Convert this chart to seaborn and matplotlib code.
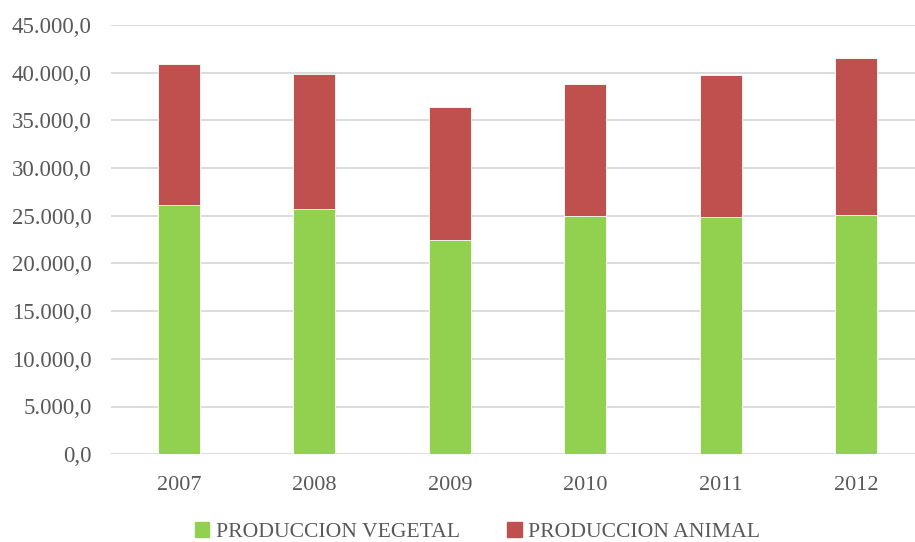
import pandas as pd
import matplotlib.pyplot as plt
import seaborn as sns
from matplotlib.ticker import FuncFormatter
from matplotlib.patches import Patch

years = ["2007", "2008", "2009", "2010", "2011", "2012"]
vegetal = [26130, 25700, 22500, 25000, 24870, 25120]
animal = [14770, 14200, 13900, 13800, 14890, 16380]

df = pd.DataFrame({"year": years, "vegetal": vegetal, "animal": animal})
df["total"] = df["vegetal"] + df["animal"]

sns.set_style("white")
plt.rcParams["font.family"] = ["Liberation Serif", "DejaVu Serif"]

green = "#92D050"
red = "#C0504D"
grey = "#595959"

fig = plt.figure(figsize=(9.15, 5.42), dpi=100)
ax = fig.add_axes([0.1216, 0.162, 0.888, 0.792])

# stacked bars: total in red, vegetal drawn over it in green
sns.barplot(data=df, x="year", y="total", color=red, width=0.31, ax=ax,
            edgecolor="white", linewidth=0.6, saturation=1, zorder=3)
sns.barplot(data=df, x="year", y="vegetal", color=green, width=0.31, ax=ax,
            edgecolor="white", linewidth=0.6, saturation=1, zorder=4)

ax.set_ylim(0, 45000)
ax.set_yticks(range(0, 45001, 5000))
ax.set_xlim(-0.5, 5.5)

def fmt(v, pos):
    s = f"{v:,.1f}"
    return s.replace(",", "X").replace(".", ",").replace("X", ".")

ax.yaxis.set_major_formatter(FuncFormatter(fmt))
ax.grid(axis="y", color="#D9D9D9", linewidth=1.3, zorder=0)
ax.set_axisbelow(True)
for s in ax.spines.values():
    s.set_visible(False)
ax.set_xlabel("")
ax.set_ylabel("")
ax.tick_params(axis="both", length=0, colors=grey)
ax.tick_params(axis="x", pad=16, labelsize=16)
ax.tick_params(axis="y", pad=14, labelsize=16.5)

handles = [Patch(color=green, label="PRODUCCION VEGETAL"),
           Patch(color=red, label="PRODUCCION ANIMAL")]
fig.legend(handles=handles, loc="lower center", bbox_to_anchor=(0.522, -0.036),
           ncol=2, frameon=False, fontsize=15.6, labelcolor=grey,
           handlelength=0.65, handleheight=0.65, handletextpad=0.3, columnspacing=2.2)

plt.savefig("out.png", dpi=100)
